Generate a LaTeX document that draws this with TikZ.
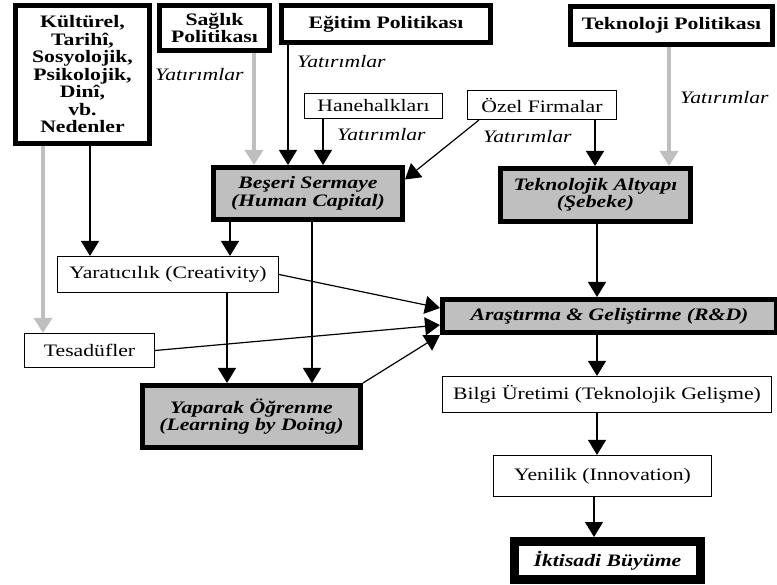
\documentclass[tikz,border=0pt]{standalone}
\usepackage{fontspec}
\setmainfont{Liberation Serif}[FakeStretch=1.24]
\usetikzlibrary{arrows.meta}

\begin{document}
\fontsize{17.5}{17.5}\selectfont
\begin{tikzpicture}[x=1pt,y=-1pt,
        polbox/.style={draw,line width=5pt,fill=white,font=\bfseries,inner sep=0pt,align=center},
        plainbox/.style={draw,line width=1.2pt,fill=white,inner sep=0pt},
        capbox/.style={draw,line width=5pt,fill=gray!50,font=\bfseries\itshape,inner sep=0pt,align=center},
        yat/.style={font=\itshape,anchor=west,inner sep=0pt},
        arr/.style={-{Triangle[width=18pt,length=15pt]},line width=1.2pt},
        garr/.style={arr,draw=gray!50,line width=3.5pt}]
        \useasboundingbox (0,0) rectangle (777,585);
        % kutular
        \node[polbox,minimum width=134pt,minimum height=138pt] (kult) at (82.5,74.5) {K\"ult\"urel,\\Tarih\^{\i},\\Sosyolojik,\\Psikolojik,\\Din\^{\i},\\vb.\\Nedenler};
        \node[polbox,minimum width=110pt,minimum height=45pt] (sag) at (214.5,28) {Sağlık\\Politikası};
        \node[polbox,minimum width=209pt,minimum height=37pt] (egt) at (386,24) {Eğitim Politikası};
        \node[polbox,minimum width=202pt,minimum height=38pt] (tpol) at (671.5,25.5) {Teknoloji Politikası};
        \node[plainbox,minimum width=138pt,minimum height=25pt] (hane) at (373.5,106) {Hanehalkları};
        \node[plainbox,minimum width=149pt,minimum height=29pt] (ozel) at (542,105) {Özel Firmalar};
        \node[capbox,minimum width=189pt,minimum height=52pt] (bes) at (308,193.5) {Beşeri Sermaye\\(Human Capital)};
        \node[capbox,minimum width=190pt,minimum height=53pt] (tekn) at (595.5,195) {Teknolojik Altyapı\\(Şebeke)};
        \node[plainbox,minimum width=221pt,minimum height=36pt] (yar) at (168,274.5) {Yaratıcılık (Creativity)};
        \node[plainbox,minimum width=130pt,minimum height=34pt] (tes) at (89.5,350.5) {Tesadüfler};
        \node[capbox,minimum width=218pt,minimum height=62pt] (yap) at (251.5,416.5) {Yaparak Öğrenme\\(Learning by Doing)};
        \node[capbox,minimum width=334pt,minimum height=33pt] (rd) at (609.5,316) {Araştırma \& Geliştirme (R\&D)};
        \node[plainbox,minimum width=329pt,minimum height=36pt] (bil) at (607,394.5) {Bilgi Üretimi (Teknolojik Gelişme)};
        \node[plainbox,minimum width=218pt,minimum height=41pt] (yen) at (602.5,476) {Yenilik (Innovation)};
        \node[polbox,line width=9pt,font=\bfseries\itshape,minimum width=186pt,minimum height=38pt] (ikt) at (607.5,560.5) {İktisadi Büyüme};
        % etiketler
        \node[yat] (y1) at (155,75) {Yatırımlar};
        \node[yat] (y2) at (297,62) {Yatırımlar};
        \node[yat] (y3) at (337,135) {Yatırımlar};
        \node[yat] (y4) at (483,137) {Yatırımlar};
        \node[yat] (y5) at (680,98) {Yatırımlar};
        % oklar
        \draw[garr] (kult.south -| 43,0) -- (tes.north -| 43,0);
        \draw[arr] (kult.south -| 90,0) -- (yar.north -| 90,0);
        \draw[garr] (sag.south -| 254,0) -- (bes.north -| 254,0);
        \draw[arr] (egt.south -| 288,0) -- (bes.north -| 288,0);
        \draw[arr] (hane.south -| 323,0) -- (bes.north -| 323,0);
        \draw[arr] ([xshift=12pt]ozel.south west) -- ([yshift=14pt]bes.east);
        \draw[arr] (ozel.south -| 595,0) -- (tekn.north -| 595,0);
        \draw[garr] (tpol.south -| 669,0) -- (tekn.north -| 669,0);
        \draw[arr] (bes.south -| 230,0) -- (yar.north -| 230,0);
        \draw[arr] (bes.south -| 312,0) -- (yap.north -| 312,0);
        \draw[arr] (yar.south -| 227,0) -- (yap.north -| 227,0);
        \draw[arr] (yar.east) -- ([yshift=8pt]rd.west);
        \draw[arr] (tes.east) -- ([yshift=-9pt]rd.west);
        \draw[arr] (yap.north east) -- (rd.south west);
        \draw[arr] (tekn.south -| 597,0) -- (rd.north -| 597,0);
        \draw[arr] (rd.south -| 597,0) -- (bil.north -| 597,0);
        \draw[arr] (bil.south -| 597,0) -- (yen.north -| 597,0);
        \draw[arr] (yen.south -| 594,0) -- (ikt.north -| 594,0);
\end{tikzpicture}
\end{document}
